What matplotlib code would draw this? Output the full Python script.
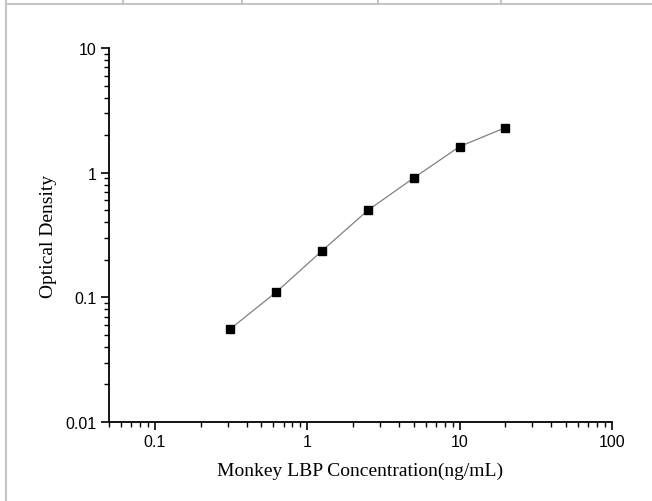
import matplotlib
matplotlib.use("Agg")
import matplotlib.pyplot as plt
from matplotlib.ticker import LogLocator, FixedLocator, NullFormatter
from matplotlib.lines import Line2D

concentration = [0.3125, 0.625, 1.25, 2.5, 5, 10, 20]
optical_density = [0.0558, 0.110, 0.236, 0.499, 0.907, 1.62, 2.30]
x_ticks = [0.1, 1, 10, 100]
x_tick_labels = ["0.1", "1", "10", "100"]
y_ticks = [0.01, 0.1, 1, 10]
y_tick_labels = ["0.01", "0.1", "1", "10"]

fig = plt.figure(figsize=(6.52, 5.02), dpi=100)
ax = fig.add_axes([109/652, 79/502, (612-109)/652, (423-49)/502])

ax.plot(concentration, optical_density, color="#808080", lw=0.9, zorder=2)
ax.plot(concentration, optical_density, ls="none", marker="s", ms=6.3,
        color="black", zorder=3)

ax.set_xscale("log")
ax.set_yscale("log")
ax.set_xlim(0.05, 100)
ax.set_ylim(0.01, 10)

ax.xaxis.set_major_locator(FixedLocator(x_ticks))
ax.set_xticklabels(x_tick_labels)
ax.yaxis.set_major_locator(FixedLocator(y_ticks))
ax.set_yticklabels(y_tick_labels)
ax.xaxis.set_minor_locator(LogLocator(base=10, subs=range(2, 10), numticks=20))
ax.yaxis.set_minor_locator(LogLocator(base=10, subs=range(2, 10), numticks=20))
ax.xaxis.set_minor_formatter(NullFormatter())
ax.yaxis.set_minor_formatter(NullFormatter())

for s in ["top", "right"]:
    ax.spines[s].set_visible(False)
for s in ["left", "bottom"]:
    ax.spines[s].set_linewidth(1.3)

ax.tick_params(which="major", direction="out", length=6, width=1.2,
               labelsize=11.5, pad=3)
ax.tick_params(which="minor", direction="out", length=3.5, width=1.0)
for lab in ax.get_xticklabels() + ax.get_yticklabels():
    lab.set_fontfamily("Liberation Sans")

ax.set_xlabel("Monkey LBP Concentration(ng/mL)", fontfamily="Liberation Serif",
              fontsize=14, labelpad=9)
ax.set_ylabel("Optical Density", fontfamily="Liberation Serif",
              fontsize=14, labelpad=6)

# fragment of table border at the top
grey = "#c4c4c4"
fig.add_artist(Line2D([6/652, 1], [1-4.5/502, 1-4.5/502], color=grey, lw=1.5,
                      transform=fig.transFigure))
fig.add_artist(Line2D([6/652, 6/652], [0, 1], color=grey, lw=1.5,
                      transform=fig.transFigure))
for xp in [123, 242, 378, 501]:
    fig.add_artist(Line2D([xp/652, xp/652], [1-4.5/502, 1], color=grey, lw=1.5,
                          transform=fig.transFigure))

fig.savefig("out.png", dpi=100)
